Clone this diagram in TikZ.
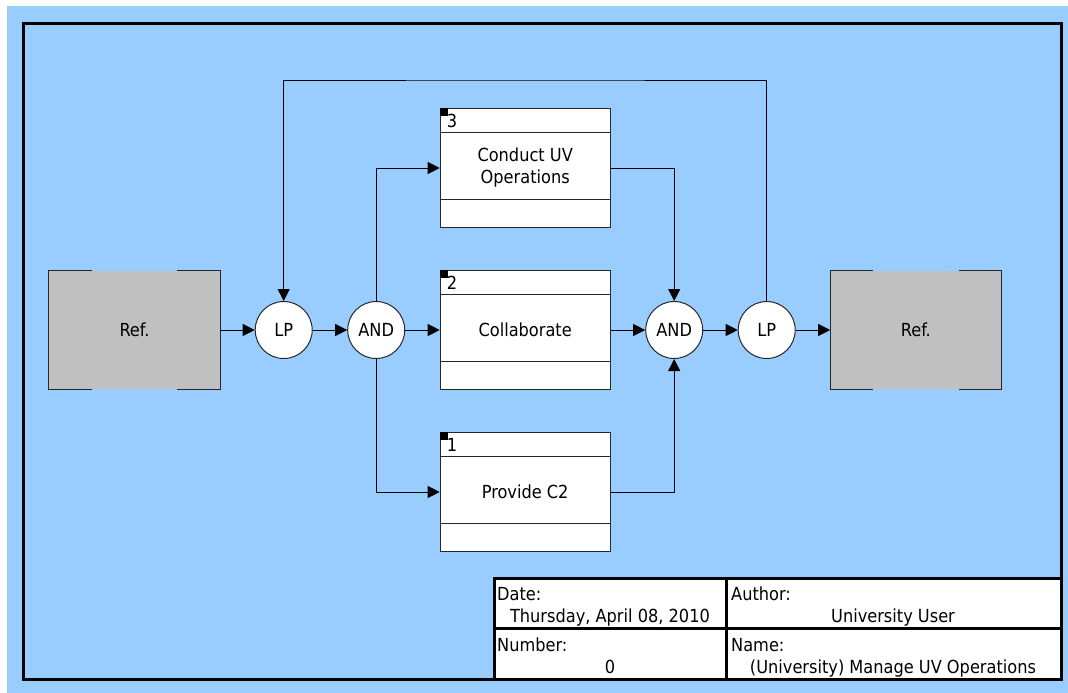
\documentclass[tikz,border=0pt]{standalone}
\usepackage{fontspec}
\setmainfont{DejaVu Sans Condensed}
\usetikzlibrary{arrows.meta,positioning}
\definecolor{bgblue}{RGB}{153,204,255}
\definecolor{refgray}{RGB}{192,192,192}
\definecolor{edge}{RGB}{40,40,40}
\newcommand{\dfont}{\fontsize{18}{22}\selectfont}
\tikzstyle{refbox}=[rectangle,fill=refgray,minimum width=171pt,minimum height=118pt,
                   inner sep=0pt,font=\dfont]
\tikzstyle{actbox}=[rectangle,draw=edge,line width=1pt,fill=white,minimum width=170pt,
                   minimum height=119pt,inner sep=0pt,align=center,font=\dfont]
\tikzstyle{junc}=[circle,draw=edge,line width=1pt,fill=white,minimum size=57pt,
                 inner sep=0pt,font=\dfont]
\tikzstyle{arrow}=[-{Triangle[length=12pt,width=12pt]},line width=1pt,draw=black]
\tikzstyle{frame}=[line width=3pt,draw=black]
\tikzstyle{cell}=[anchor=base west,inner sep=0pt,font=\dfont]
\tikzstyle{cellval}=[anchor=base,inner sep=0pt,font=\dfont]

\begin{document}
\begin{tikzpicture}[x=1pt,y=-1pt,node distance=35pt and 34.5pt]
  \useasboundingbox (0,0) rectangle (1068,693);
  \fill[bgblue] (7,6) rectangle (1068,693);
  \draw[frame] (23.5,23.5) rectangle (1061.5,679.5);

  % main row
  \node[refbox] (refL) at (134.5,330) {Ref.};
  \node[junc,right=of refL] (lp1) {LP};
  \node[junc,right=of lp1] (and1) {AND};
  \node[actbox,right=of and1] (box2) {Collaborate};
  \node[actbox,above=42pt of box2] (box3) {Conduct UV\\Operations};
  \node[actbox,below=42pt of box2] (box1) {Provide C2};
  \node[junc,right=of box2] (and2) {AND};
  \node[junc,right=of and2] (lp2) {LP};
  \node[refbox,right=of lp2] (refR) {Ref.};
  \coordinate (loop) at (526,80);

  % ref box edges
  \foreach \r in {refL,refR}{
    \draw[edge,line width=1pt] ([xshift=43pt]\r.north west) -- (\r.north west)
      -- (\r.south west) -- ([xshift=43pt]\r.south west);
    \draw[edge,line width=1pt] ([xshift=-43pt]\r.north east) -- (\r.north east)
      -- (\r.south east) -- ([xshift=-43pt]\r.south east);
  }

  % activity box details
  \foreach \b/\n in {box3/3,box2/2,box1/1}{
    \draw[edge,line width=1pt] (\b.north west) ++(0,24) -- ++(170,0);
    \draw[edge,line width=1pt] (\b.south west) ++(0,-29) -- ++(170,0);
    \fill[black] (\b.north west) rectangle ++(8,8);
    \node[cell] at ([xshift=7pt,yshift=-19pt]\b.north west) {\n};
  }

  \draw[arrow] (refL) -- (lp1);
  \draw[arrow] (lp1) -- (and1);
  \draw[arrow] (and1) -- (box2);
  \draw[arrow] (and1.north) |- (box3);
  \draw[arrow] (and1.south) |- (box1);
  \draw[arrow] (box3) -| (and2.north);
  \draw[arrow] (box2) -- (and2);
  \draw[arrow] (box1) -| (and2.south);
  \draw[arrow] (and2) -- (lp2);
  \draw[arrow] (lp2) -- (refR);
  \draw[arrow] (lp2.north) |- (loop) -| (lp1.north);

  % title block
  \fill[white] (494,578) rectangle (1061.5,679.5);
  \draw[frame] (494,578) rectangle (1061.5,679.5);
  \draw[frame] (726,578) -- (726,679.5);
  \draw[frame] (494,628) -- (1061.5,628);
  \node[cell] (date) at (497,600) {Date:};
  \node[cellval] (dateval) at (610,622) {Thursday, April 08, 2010};
  \node[cell] (author) at (731,600) {Author:};
  \node[cellval] (authorval) at (893,622) {University User};
  \node[cell] (number) at (497,651) {Number:};
  \node[cellval] (numberval) at (610,673) {0};
  \node[cell] (name) at (731,651) {Name:};
  \node[cellval] (nameval) at (893,673) {(University) Manage UV Operations};
\end{tikzpicture}
\end{document}
